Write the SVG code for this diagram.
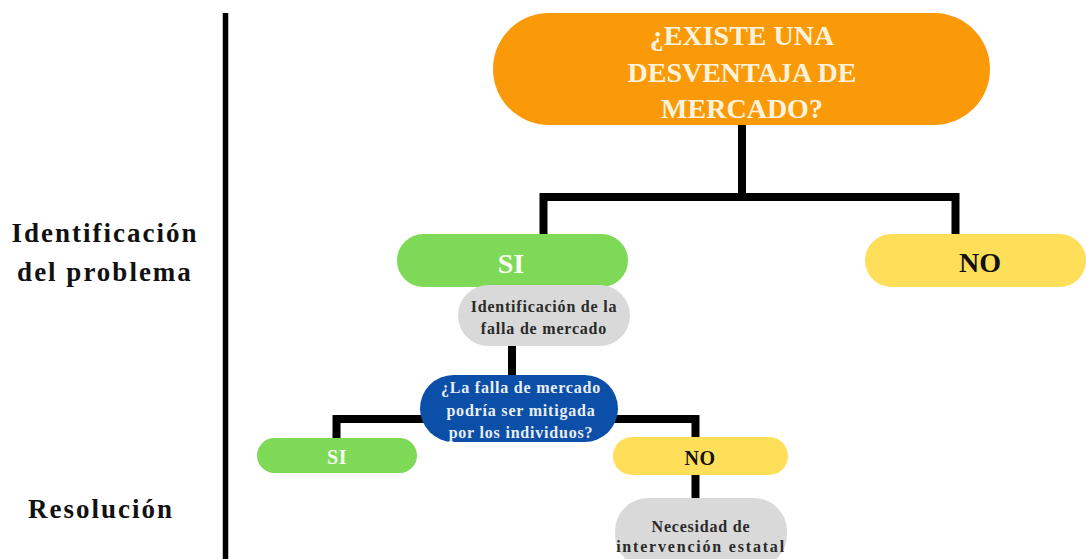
<svg xmlns="http://www.w3.org/2000/svg" width="1086" height="559" viewBox="0 0 1086 559">
<style>
text{font-family:"Liberation Serif","Times New Roman",serif;font-weight:bold;text-anchor:middle}
.conn{fill:none;stroke:#000;stroke-width:8;stroke-linejoin:miter}
.lbl{font-size:27px;fill:#111;letter-spacing:2px}
.big{font-size:28px}
.mid{font-size:16px;letter-spacing:0.8px}
.sm{font-size:20px;letter-spacing:0.5px}
</style>
<rect width="1086" height="559" fill="#ffffff"/>
<g id="divider"><line x1="225.5" y1="13" x2="225.5" y2="559" stroke="#000" stroke-width="5.5"/></g>
<g id="label-identificacion"><text class="lbl" x="105" y="242">Identificación</text><text class="lbl" x="105" y="281">del problema</text></g>
<g id="label-resolucion"><text class="lbl" x="101" y="518">Resolución</text></g>
<g id="connectors">
<path class="conn" d="M742 124 V197"/>
<path class="conn" d="M543.5 236 V197 H955.5 V236"/>
<path class="conn" d="M512 344 V377"/>
<path class="conn" d="M425 419 H336.5 V440"/>
<path class="conn" d="M614 419 H695.5 V439"/>
<path class="conn" d="M695.5 473 V500"/>
</g>
<g id="q-desventaja"><rect x="493" y="13" width="497" height="112" rx="56" fill="#fa9a08"/><text class="big" fill="#fdf3dc" x="742" y="45">¿EXISTE UNA</text><text class="big" fill="#fdf3dc" x="742" y="82">DESVENTAJA DE</text><text class="big" fill="#fdf3dc" x="742" y="118">MERCADO?</text></g>
<g id="si-top"><rect x="397" y="234" width="231" height="53" rx="26.5" fill="#7ed957"/><text class="big" fill="#f7fbf2" x="511" y="273">SI</text></g>
<g id="no-top"><rect x="865" y="234" width="221" height="53" rx="26.5" fill="#ffde59"/><text class="big" fill="#111" x="980" y="272">NO</text></g>
<g id="identificacion-falla"><rect x="458" y="285" width="172" height="61" rx="30.5" fill="#d9d9d9"/><text class="mid" fill="#2a2a2a" x="544" y="312">Identificación de la</text><text class="mid" fill="#2a2a2a" x="544" y="334">falla de mercado</text></g>
<g id="q-mitigada"><rect x="420" y="375" width="198" height="67" rx="33.5" fill="#0c4fa8"/><text class="mid" fill="#e9eef2" x="521" y="393">¿La falla de mercado</text><text class="mid" fill="#e9eef2" x="521" y="416">podría ser mitigada</text><text class="mid" fill="#e9eef2" x="521" y="438">por los individuos?</text></g>
<g id="si-bottom"><rect x="257" y="438" width="160" height="35" rx="17.5" fill="#7ed957"/><text class="sm" fill="#f7fbf2" x="337" y="464">SI</text></g>
<g id="no-bottom"><rect x="613" y="437" width="175" height="38" rx="19" fill="#ffde59"/><text class="sm" fill="#111" x="700" y="465">NO</text></g>
<g id="intervencion"><rect x="615" y="498" width="172" height="70" rx="33" fill="#d9d9d9"/><text class="mid" fill="#2a2a2a" x="701" y="532">Necesidad de</text><text class="mid" fill="#2a2a2a" x="701" y="552" style="letter-spacing:1.8px">intervención estatal</text></g>
</svg>
